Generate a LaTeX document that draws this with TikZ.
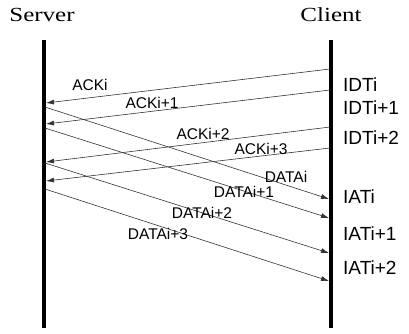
\documentclass[tikz,border=0pt]{standalone}
\usepackage{fontspec}
\setmainfont{Liberation Serif}
\setsansfont{Liberation Sans}
\usetikzlibrary{arrows.meta}
\tikzstyle{flow}=[x=1pt, y=-1pt, font=\sffamily\fontsize{15.5}{15.5}\selectfont]
\tikzstyle{host}=[inner sep=0pt, xscale=1.25, transform shape, font=\rmfamily\fontsize{20}{20}\selectfont]
\tikzstyle{lifeline}=[-, line width=3.6pt]
\tikzstyle{msg}=[-{Latex[length=8pt, width=5pt]}, line width=0.6pt, draw=black!80]
\tikzstyle{lbl}=[inner sep=0pt]
\tikzstyle{t}=[anchor=west, inner sep=0pt, font=\sffamily\fontsize{19}{19}\selectfont]

\begin{document}
\begin{tikzpicture}[flow]
	\useasboundingbox (0,0) rectangle (409,333);

	%The hosts
	\draw (42,15) node[host] (srv) {Server};
	\draw (331,15) node[host] (cli) {Client};
	\coordinate (srvtop) at (44,40);
	\coordinate (srvbot) at (44,328);
	\coordinate (clitop) at (331,40);
	\coordinate (clibot) at (331,328);
	\draw[lifeline] (srvtop) -- (srvbot);
	\draw[lifeline] (clitop) -- (clibot);

	%The ACK messages
	\coordinate (a0s) at (330,69);  \coordinate (a0e) at (46,103);
	\coordinate (a1s) at (330,90);  \coordinate (a1e) at (46,124);
	\coordinate (a2s) at (330,127); \coordinate (a2e) at (46,162);
	\coordinate (a3s) at (330,148); \coordinate (a3e) at (46,181);
	\draw[msg] (a0s) -- (a0e);
	\draw[msg] (a1s) -- (a1e);
	\draw[msg] (a2s) -- (a2e);
	\draw[msg] (a3s) -- (a3e);

	%The DATA messages
	\coordinate (d0s) at (45,107); \coordinate (d0e) at (329,199);
	\coordinate (d1s) at (45,128); \coordinate (d1e) at (329,218);
	\coordinate (d2s) at (45,163); \coordinate (d2e) at (329,253);
	\coordinate (d3s) at (45,189); \coordinate (d3e) at (329,281);
	\draw[msg] (d0s) -- (d0e);
	\draw[msg] (d1s) -- (d1e);
	\draw[msg] (d2s) -- (d2e);
	\draw[msg] (d3s) -- (d3e);

	%The message labels
	\draw (90,85) node[lbl] (ack0) {ACKi};
	\draw (152,103) node[lbl] (ack1) {ACKi+1};
	\draw (203,134) node[lbl] (ack2) {ACKi+2};
	\draw (261,149) node[lbl] (ack3) {ACKi+3};
	\draw (286,177) node[lbl] (data0) {DATAi};
	\draw (244,192) node[lbl] (data1) {DATAi+1};
	\draw (202,213) node[lbl] (data2) {DATAi+2};
	\draw (158,234) node[lbl] (data3) {DATAi+3};

	%The times at the client
	\draw (343,85) node[t] (idt0) {IDTi};
	\draw (343,108) node[t] (idt1) {IDTi+1};
	\draw (343,138) node[t] (idt2) {IDTi+2};
	\draw (343,197) node[t] (iat0) {IATi};
	\draw (343,234) node[t] (iat1) {IATi+1};
	\draw (343,268) node[t] (iat2) {IATi+2};
\end{tikzpicture}
\end{document}
